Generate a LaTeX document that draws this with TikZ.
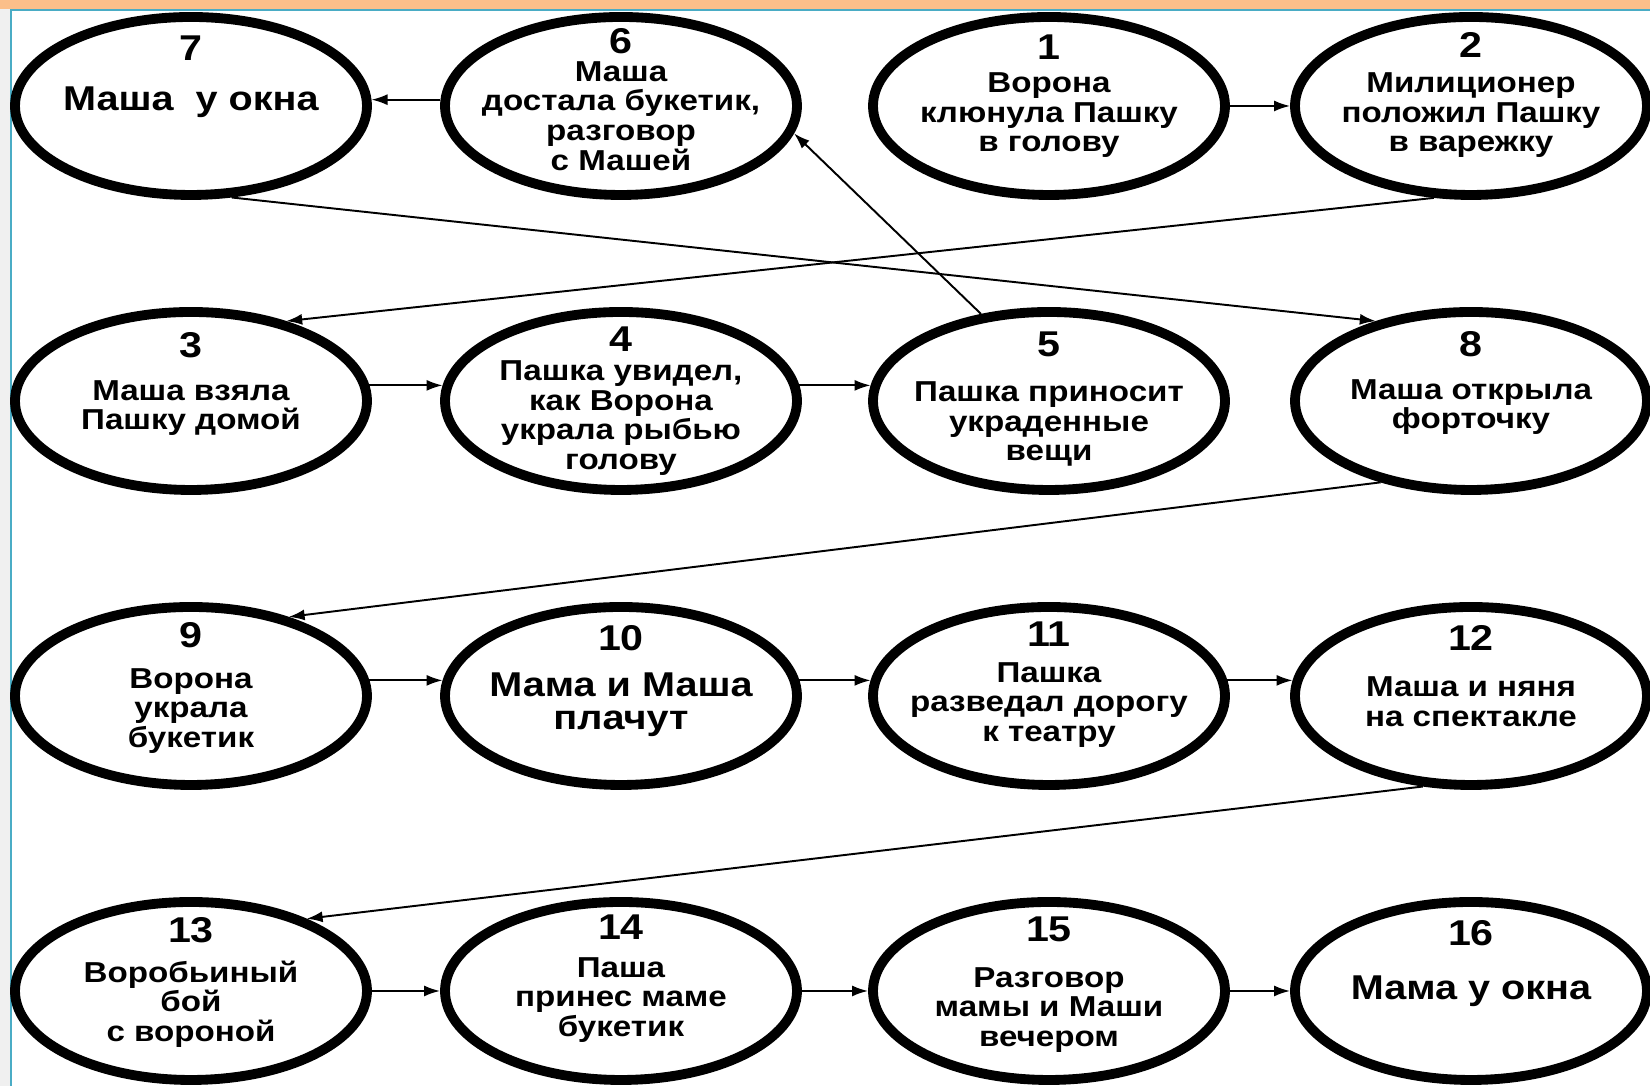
\documentclass[tikz,border=0pt]{standalone}
\usepackage{fontspec}
\setmainfont{Liberation Sans}[FakeStretch=1.15]
\usetikzlibrary{positioning}
\usetikzlibrary{shapes.geometric}
\usetikzlibrary{arrows.meta}
\usepackage{xcolor}
\definecolor{bandorange}{HTML}{FBBF8A}
\definecolor{frameblue}{HTML}{4AACC5}

\tikzset{
 ev/.style={draw, ellipse, line width=2.8pt, minimum width=3.52cm, minimum height=1.78cm, inner sep=0pt},
 txt/.style={align=center, inner sep=0pt, font=\bfseries\fontsize{8.2}{8.4}\selectfont},
 bigtxt/.style={align=center, inner sep=0pt, font=\bfseries\fontsize{9.8}{9.4}\selectfont},
 num/.style={inner sep=0pt, font=\bfseries\fontsize{10.2}{11}\selectfont},
 arr/.style={-{Latex[length=1.6mm,width=1.1mm]}, line width=0.55pt}
}

\begin{document}
\begin{tikzpicture}

\useasboundingbox (0,0) rectangle (16.5,10.86);

\fill[white] (0,0) rectangle (16.5,10.86);
\fill[bandorange] (0,10.77) rectangle (16.5,10.86);
\fill[gray!12] (0,0) rectangle (0.1,10.77);
\draw[frameblue, line width=0.02cm] (0.11,0) -- (0.11,10.76) -- (16.5,10.76);

% row 1
\node[ev] (e7) at (1.91,9.80) {};
\node[num] (k7) at (1.91,10.38) {7};
\node[bigtxt] (t7) at (1.91,9.84) {Маша\ \ у окна};

\node[ev] (e6) at (6.21,9.80) {};
\node[num] (k6) at (6.21,10.45) {6};
\node[txt] (t6) at (6.21,9.70) {Маша\\достала букетик,\\разговор\\с Машей};

\node[ev] (e1) at (10.49,9.80) {};
\node[num] (k1) at (10.49,10.39) {1};
\node[txt] (t1) at (10.49,9.705) {Ворона\\клюнула Пашку\\в голову};

\node[ev] (e2) at (14.71,9.80) {};
\node[num] (k2) at (14.71,10.41) {2};
\node[txt] (t2) at (14.71,9.705) {Милиционер\\положил Пашку\\в варежку};

% row 2
\node[ev] (e3) at (1.91,6.85) {};
\node[num] (k3) at (1.91,7.41) {3};
\node[txt] (t3) at (1.91,6.78) {Маша взяла\\Пашку домой};

\node[ev] (e4) at (6.21,6.85) {};
\node[num] (k4) at (6.21,7.47) {4};
\node[txt] (t4) at (6.21,6.68) {Пашка увидел,\\как Ворона\\украла рыбью\\голову};

\node[ev] (e5) at (10.49,6.85) {};
\node[num] (k5) at (10.49,7.42) {5};
\node[txt] (t5) at (10.49,6.62) {Пашка приносит\\украденные\\вещи};

\node[ev] (e8) at (14.71,6.85) {};
\node[num] (k8) at (14.71,7.42) {8};
\node[txt] (t8) at (14.71,6.79) {Маша открыла\\форточку};

% row 3
\node[ev] (e9) at (1.91,3.90) {};
\node[num] (k9) at (1.91,4.51) {9};
\node[txt] (t9) at (1.91,3.75) {Ворона\\украла\\букетик};

\node[ev] (e10) at (6.21,3.90) {};
\node[num] (k10) at (6.21,4.48) {10};
\node[bigtxt] (t10) at (6.21,3.81) {Мама и Маша\\плачут};

\node[ev] (e11) at (10.49,3.90) {};
\node[num] (k11) at (10.49,4.52) {11};
\node[txt] (t11) at (10.49,3.81) {Пашка\\разведал дорогу\\к театру};

\node[ev] (e12) at (14.71,3.90) {};
\node[num] (k12) at (14.71,4.48) {12};
\node[txt] (t12) at (14.71,3.84) {Маша и няня\\на спектакле};

% row 4
\node[ev] (e13) at (1.91,0.95) {};
\node[num] (k13) at (1.91,1.56) {13};
\node[txt] (t13) at (1.91,0.82) {Воробьиный\\бой\\с вороной};

\node[ev] (e14) at (6.21,0.95) {};
\node[num] (k14) at (6.21,1.59) {14};
\node[txt] (t14) at (6.21,0.86) {Паша\\принес маме\\букетик};

\node[ev] (e15) at (10.49,0.95) {};
\node[num] (k15) at (10.49,1.57) {15};
\node[txt] (t15) at (10.49,0.76) {Разговор\\мамы и Маши\\вечером};

\node[ev] (e16) at (14.71,0.95) {};
\node[num] (k16) at (14.71,1.53) {16};
\node[bigtxt] (t16) at (14.71,0.95) {Мама у окна};

% arrows
\draw[arr] (e1.east) -- (e2.west);
\draw[arr] (e2.248) -- (e3.40);
\draw[arr] (e3.5) -- (e4.175);
\draw[arr] (e4.5) -- (e5.175);
\draw[arr] (e5.128) -- (e6.-9);
\draw[arr] (e6.178) -- (e7.2);
\draw[arr] (e7.294) -- (e8.140);
\draw[arr] (e8.222) -- (e9.39);
\draw[arr] (e9.5) -- (e10.175);
\draw[arr] (e10.5) -- (e11.175);
\draw[arr] (e11.5) -- (e12.175);
\draw[arr] (e12.242) -- (e13.32);
\draw[arr] (e13.east) -- (e14.west);
\draw[arr] (e14.east) -- (e15.west);
\draw[arr] (e15.east) -- (e16.west);

\end{tikzpicture}
\end{document}
